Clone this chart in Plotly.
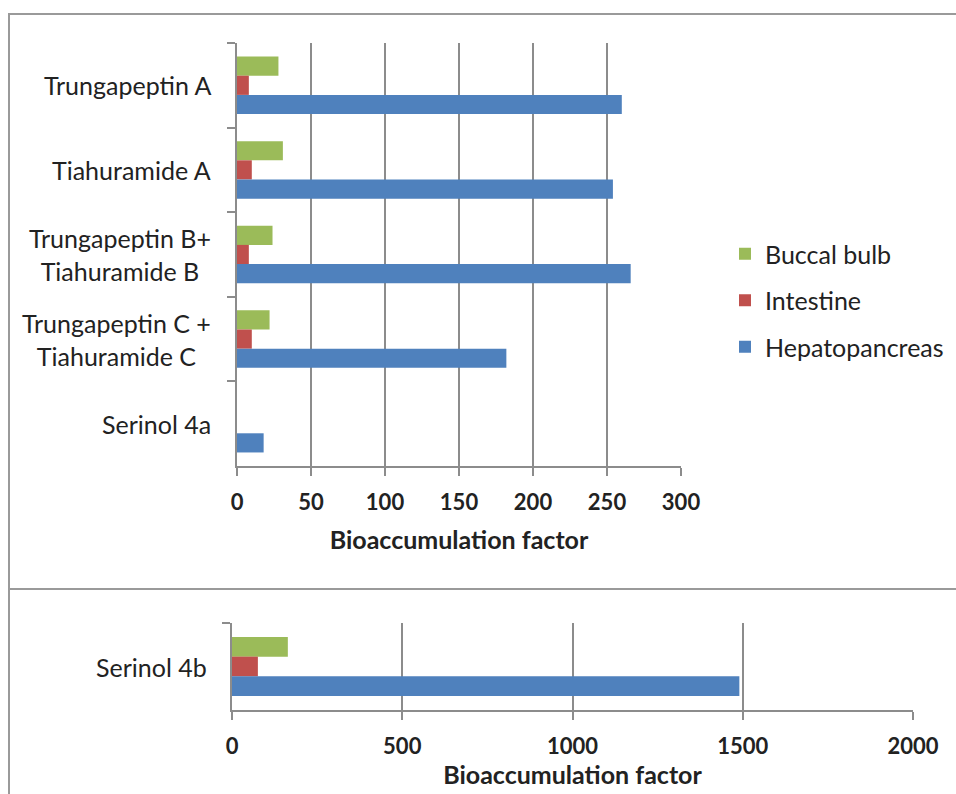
import plotly.graph_objects as go

W, H = 956, 794

# ---- data ----
categories_top = [
    "Trungapeptin A",
    "Tiahuramide A",
    "Trungapeptin B+<br>Tiahuramide B",
    "Trungapeptin C +<br>Tiahuramide C",
    "Serinol 4a",
]
hepatopancreas_top = [260, 254, 266, 182, 18]
intestine_top = [8, 10, 8, 10, 0]
buccal_top = [28, 31, 24, 22, 0]

categories_bottom = ["Serinol 4b"]
hepatopancreas_bottom = [1490]
intestine_bottom = [76]
buccal_bottom = [164]

x_ticks_top = [0, 50, 100, 150, 200, 250, 300]
x_ticks_bottom = [0, 500, 1000, 1500, 2000]

series_names = ["Buccal bulb", "Intestine", "Hepatopancreas"]
series_colors = ["#9BBB59", "#C0504D", "#4F81BD"]

FONT = "Lato"
TXT = "#222222"
GRID = "#8c8c8c"


def px_x(p):
    return p / W


def px_y(p):
    return 1 - p / H


fig = go.Figure()

top_vals = [buccal_top, intestine_top, hepatopancreas_top]
bot_vals = [buccal_bottom, intestine_bottom, hepatopancreas_bottom]
for name, color, vals in zip(series_names, series_colors, top_vals):
    fig.add_trace(go.Bar(
        y=categories_top, x=vals, orientation="h", name=name,
        marker=dict(color=color, line=dict(width=0)),
        xaxis="x", yaxis="y", legendgroup=name, showlegend=True,
    ))
for name, color, vals in zip(series_names, series_colors, bot_vals):
    fig.add_trace(go.Bar(
        y=categories_bottom, x=vals, orientation="h", name=name,
        marker=dict(color=color, line=dict(width=0)),
        xaxis="x2", yaxis="y2", legendgroup=name, showlegend=False,
    ))

xcommon = dict(
    showgrid=True, gridcolor=GRID, gridwidth=1.5,
    showline=True, linecolor=GRID, linewidth=1.5,
    ticks="outside", ticklen=8, tickcolor=GRID, tickwidth=1.5,
    tickfont=dict(family=FONT, size=22, color=TXT, weight="bold"),
    zeroline=False, ticklabelstandoff=8,
)
ycommon = dict(
    type="category", autorange="reversed", showticklabels=False,
    ticks="outside", tickson="boundaries", ticklen=8, tickcolor=GRID, tickwidth=1.5,
    showline=True, linecolor=GRID, linewidth=1.5, showgrid=False, zeroline=False,
)

fig.update_layout(
    width=W, height=H, autosize=False,
    margin=dict(l=0, r=0, t=0, b=0, autoexpand=False),
    paper_bgcolor="white", plot_bgcolor="white",
    barmode="group", bargap=0.32, bargroupgap=0,
    font=dict(family=FONT, color=TXT),
    xaxis=dict(xcommon, domain=[px_x(237), px_x(681)], anchor="y",
               range=[0, 300], tickvals=x_ticks_top,
               title=dict(text="Bioaccumulation factor",
                          font=dict(family=FONT, size=25, color=TXT, weight="bold"),
                          standoff=17)),
    yaxis=dict(ycommon, domain=[px_y(466), px_y(43)], anchor="x",
               categoryorder="array", categoryarray=categories_top),
    xaxis2=dict(xcommon, domain=[px_x(232), px_x(913)], anchor="y2",
                range=[0, 2000], tickvals=x_ticks_bottom,
                title=dict(text="Bioaccumulation factor",
                           font=dict(family=FONT, size=25, color=TXT, weight="bold"),
                           standoff=8)),
    yaxis2=dict(ycommon, domain=[px_y(710), px_y(623)], anchor="x2",
                categoryorder="array", categoryarray=categories_bottom),
    legend=dict(
        x=px_x(725), y=px_y(231), xanchor="left", yanchor="top",
        font=dict(family=FONT, size=25, color=TXT),
        traceorder="grouped", tracegroupgap=11,
        bgcolor="rgba(0,0,0,0)",
    ),
    showlegend=True,
)

annotations = []
for c in categories_top:
    annotations.append(dict(
        x=px_x(213), xref="paper", y=c, yref="y", text=c, showarrow=False,
        xanchor="right", yanchor="middle", align="center",
        font=dict(family=FONT, size=25, color=TXT),
    ))
for c in categories_bottom:
    annotations.append(dict(
        x=px_x(209), xref="paper", y=c, yref="y2", text=c, showarrow=False,
        xanchor="right", yanchor="middle", align="center",
        font=dict(family=FONT, size=25, color=TXT),
    ))
fig.update_layout(annotations=annotations)

BORDER = "#9a9a9a"
fig.update_layout(shapes=[
    dict(type="rect", xref="paper", yref="paper",
         x0=px_x(9), x1=1.05, y0=px_y(589), y1=px_y(14),
         line=dict(color=BORDER, width=2), fillcolor="rgba(0,0,0,0)", layer="below"),
    dict(type="line", xref="paper", yref="paper",
         x0=px_x(9), x1=px_x(9), y0=px_y(589), y1=-0.05,
         line=dict(color=BORDER, width=2), layer="below"),
])

fig.write_html("out.html", config={"displayModeBar": False},
               post_script="document.body.style.margin='0';")
